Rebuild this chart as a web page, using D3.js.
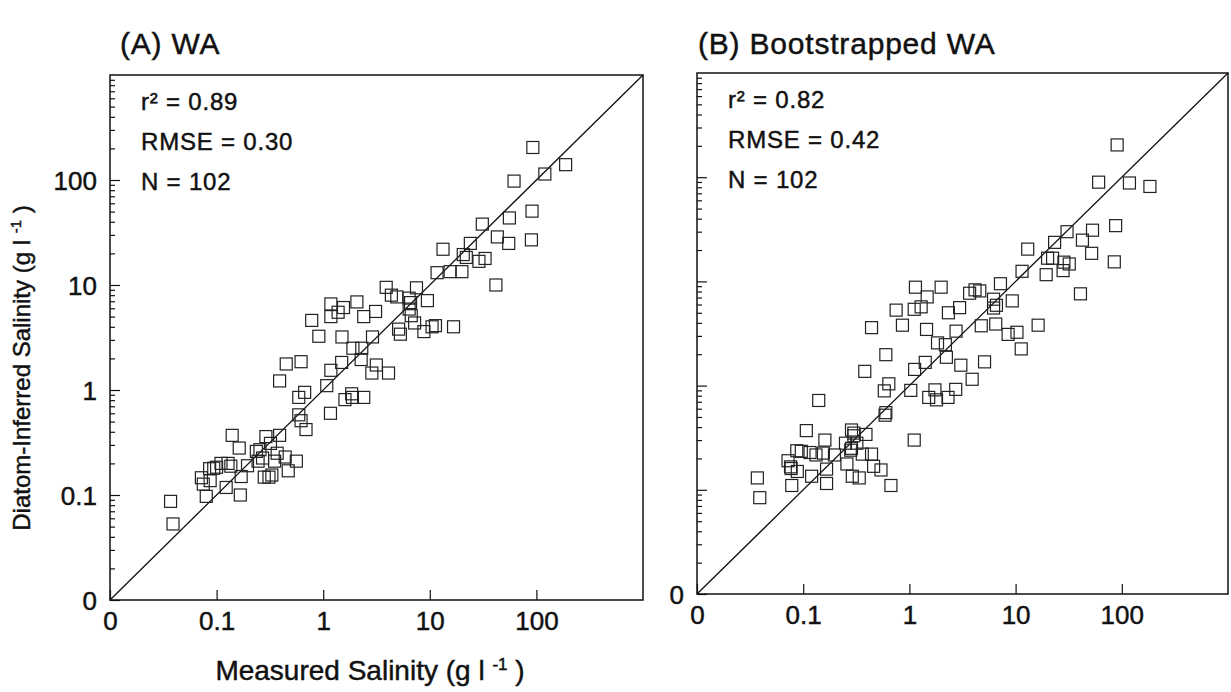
<!DOCTYPE html>
<html>
<head>
<meta charset="utf-8">
<script src="https://cdn.jsdelivr.net/npm/d3@7"></script>
<style>
  body { margin: 0; background: #fff; }
  svg { display: block; font-family: "Liberation Sans", Arial, sans-serif; }
  text { stroke: #111; stroke-width: 0.45px; }
</style>
</head>
<body>
<svg id="chart" width="1231" height="692"></svg>
<script>
// tick values and labels (the lowest decade is labelled "0" in the figure)
const majorTicks = [0.01, 0.1, 1, 10, 100];
const majorLabels = ["0", "0.1", "1", "10", "100"];
const panelTitles = ["(A) WA", "(B) Bootstrapped WA"];
const statsA = ["r² = 0.89", "RMSE = 0.30", "N = 102"];
const statsB = ["r² = 0.82", "RMSE = 0.42", "N = 102"];

// panel A: measured vs diatom-inferred salinity (g/l)
const measuredA = [92.6, 188, 120, 61.7, 91, 55.8, 31.1, 43, 55, 89.8, 24, 13.3, 20.6, 22, 33, 28.9, 20, 15.5, 11.7, 41.7,
  3.9, 4.36, 4.9, 7.5, 6.4, 6.6, 9.5, 6.4, 6.7, 7.2, 5.1, 5.3, 8.8, 10.5, 11.3, 16.7, 1.18, 1.18, 1.38, 1.55,
  2.07, 2.4, 3.1, 0.78, 0.91, 1.5, 2.9, 1.9, 2.3, 1.49, 1.18, 2.27, 3.15, 2.86, 4.1, 0.39, 0.45, 0.62, 0.67, 0.59,
  1.08, 1.6, 1.85, 1.88, 2.4, 1.17, 0.59, 0.62, 0.69, 0.14, 0.163, 0.29, 0.39, 0.32, 0.255, 0.27, 0.245, 0.35, 0.44, 0.56,
  0.47, 0.31, 0.28, 0.33, 0.195, 0.17, 0.167, 0.123, 0.136, 0.11, 0.086, 0.094, 0.072, 0.075, 0.08, 0.087, 0.1, 0.037, 0.039, 0.128,
  0.236, 0.37];
const inferredA = [204, 140, 114, 97.6, 50.5, 43.5, 38, 28.7, 24.9, 26.9, 24.9, 21.9, 19.5, 18.3, 17.9, 16.8, 13.4, 13.4, 13.1, 10.0,
  9.5, 8.0, 7.7, 9.4, 7.5, 6.8, 7.1, 5.9, 5.1, 4.35, 3.8, 3.4, 3.6, 4.0, 4.1, 4.0, 6.6, 5.0, 5.5, 6.1,
  6.9, 5.0, 5.6, 4.6, 3.25, 3.2, 3.2, 2.5, 2.5, 1.83, 1.54, 1.95, 1.73, 1.45, 1.45, 1.22, 1.77, 1.86, 0.95, 0.85,
  1.1, 0.81, 0.92, 0.85, 0.85, 0.6, 0.58, 0.51, 0.42, 0.37, 0.28, 0.36, 0.37, 0.31, 0.27, 0.225, 0.21, 0.21, 0.23, 0.21,
  0.17, 0.148, 0.148, 0.155, 0.19, 0.15, 0.1, 0.118, 0.188, 0.2, 0.178, 0.18, 0.146, 0.127, 0.097, 0.137, 0.184, 0.087, 0.053, 0.2,
  0.26, 0.25];

// panel B: measured vs bootstrapped diatom-inferred salinity (g/l)
const measuredB = [90.4, 60.5, 118, 184, 87.5, 53, 30.5, 42.6, 23.3, 13, 52, 20, 22.3, 32, 28, 85, 11.5, 19.4, 40.8, 1.14,
  1.99, 1.47, 1.29, 1.11, 0.75, 2.33, 2.97, 3.69, 4.15, 4.6, 7.2, 6.2, 6.2, 9.3, 6.5, 4.75, 8.5, 10.3, 16.3, 11.3,
  0.44, 0.86, 1.45, 2.75, 1.84, 2.18, 2.23, 1.41, 1.12, 3.05, 5.1, 0.6, 0.38, 3.9, 0.64, 0.58, 1.03, 1.74, 2.73, 1.52,
  1.8, 2.31, 0.14, 0.59, 0.6, 1.11, 0.107, 0.285, 0.3, 0.39, 0.16, 0.25, 0.285, 0.28, 0.197, 0.087, 0.096, 0.116, 0.132, 0.072,
  0.076, 0.088, 0.078, 0.12, 0.166, 0.166, 0.258, 0.29, 0.337, 0.36, 0.44, 0.46, 0.54, 0.67, 0.037, 0.039, 0.3, 0.32, 0.155, 0.077,
  28.5, 6.6];
const inferredB = [204, 89.6, 88, 81.5, 34.3, 31, 30, 24.9, 23.7, 20.4, 18.6, 16.7, 16.7, 14.7, 12.7, 15.4, 12.5, 11.6, 7.6, 8.8,
  8.8, 7.1, 5.7, 5.4, 5.3, 5.0, 5.6, 7.7, 8.3, 8.1, 9.5, 6.75, 5.55, 6.5, 3.9, 3.75, 3.1, 3.25, 3.8, 2.25,
  3.6, 3.8, 3.46, 3.33, 2.57, 2.47, 1.87, 1.67, 1.43, 1.57, 1.69, 1.98, 1.37, 1.15, 1.04, 0.89, 0.9, 0.91, 0.92, 0.77,
  0.73, 0.77, 0.72, 0.52, 0.55, 0.3, 0.37, 0.375, 0.35, 0.34, 0.3, 0.28, 0.25, 0.24, 0.216, 0.237, 0.234, 0.228, 0.216, 0.19,
  0.166, 0.15, 0.11, 0.135, 0.158, 0.115, 0.177, 0.135, 0.13, 0.22, 0.22, 0.168, 0.155, 0.11, 0.13, 0.084, 0.33, 0.28, 0.225, 0.16,
  15.3, 5.9];

const domain = [0.01, 1000];
const squareSize = 12;
const ink = "#111";

const svg = d3.select("#chart");

// frame positions of the two panels (scan is slightly tilted, so B sits a little higher)
const panels = [
  { left: 110, top: 75, right: 643, bottom: 600, titleX: 120, title: panelTitles[0], stats: statsA, xs: measuredA, ys: inferredA, yLabels: true },
  { left: 697, top: 73, right: 1228, bottom: 594, titleX: 698, title: panelTitles[1], stats: statsB, xs: measuredB, ys: inferredB, yLabels: false },
];

function minorTicks() {
  let out = [];
  for (let e = -2; e < 3; e++) {
    for (let m = 2; m <= 9; m++) out.push(m * Math.pow(10, e));
  }
  return out;
}

panels.forEach((p) => {
  const x = d3.scaleLog().domain(domain).range([p.left, p.right]);
  const y = d3.scaleLog().domain(domain).range([p.bottom, p.top]);
  const g = svg.append("g");

  // y axis: major + minor ticks pointing inward
  g.append("g")
    .attr("transform", `translate(${p.left},0)`)
    .call(d3.axisLeft(y).tickValues(minorTicks()).tickSize(-5).tickFormat(""))
    .call((a) => a.select(".domain").remove());

  g.append("g")
    .attr("class", "y-major")
    .attr("transform", `translate(${p.left},0)`)
    .call(d3.axisLeft(y).tickValues(majorTicks).tickSize(-10).tickPadding(13)
      .tickFormat((d, i) => (p.yLabels || i === 0 ? majorLabels[i] : "")))
    .call((a) => a.select(".domain").remove());

  // x axis: major ticks only
  g.append("g")
    .attr("class", "x-major")
    .attr("transform", `translate(0,${p.bottom})`)
    .call(d3.axisBottom(x).tickValues(majorTicks).tickSize(-10).tickPadding(12)
      .tickFormat((d, i) => majorLabels[i]))
    .call((a) => a.select(".domain").remove());

  g.selectAll(".tick line").attr("stroke", ink).attr("stroke-width", 1.2);
  g.selectAll(".tick text")
    .attr("fill", ink)
    .style("font-size", "26px");
  g.selectAll(".y-major .tick text").attr("dy", "0.36em");

  // frame
  g.append("rect")
    .attr("x", p.left).attr("y", p.top)
    .attr("width", p.right - p.left).attr("height", p.bottom - p.top)
    .attr("fill", "none").attr("stroke", ink).attr("stroke-width", 1.5);

  // 1:1 line
  g.append("line")
    .attr("x1", x(domain[0])).attr("y1", y(domain[0]))
    .attr("x2", x(domain[1])).attr("y2", y(domain[1]))
    .attr("stroke", ink).attr("stroke-width", 1.3);

  // points
  g.append("g")
    .selectAll("rect")
    .data(d3.range(p.xs.length))
    .join("rect")
    .attr("x", (i) => x(p.xs[i]) - squareSize / 2)
    .attr("y", (i) => y(p.ys[i]) - squareSize / 2)
    .attr("width", squareSize)
    .attr("height", squareSize)
    .attr("fill", "none")
    .attr("stroke", "#222")
    .attr("stroke-width", 1.2);

  // statistics
  g.append("g")
    .selectAll("text")
    .data(p.stats)
    .join("text")
    .attr("x", p.left + 31)
    .attr("y", (d, i) => p.top + 35 + i * 40)
    .attr("fill", ink)
    .style("font-size", "24px")
    .style("letter-spacing", "0.8px")
    .text((d) => d);

  // panel title
  svg.append("text")
    .attr("x", p.titleX)
    .attr("y", 54)
    .attr("fill", ink)
    .style("font-size", "30px")
    .style("letter-spacing", "0.8px")
    .text(p.title);
});

// axis titles
const yTitle = svg.append("text")
  .attr("transform", "translate(30,368) rotate(-90)")
  .attr("text-anchor", "middle")
  .attr("fill", ink)
  .style("font-size", "24px");
yTitle.append("tspan").text("Diatom-Inferred Salinity (g l ");
yTitle.append("tspan").attr("dy", -9).style("font-size", "15px").text("-1");
yTitle.append("tspan").attr("dy", 9).text(" )");

const xTitle = svg.append("text")
  .attr("x", 370)
  .attr("y", 680)
  .attr("text-anchor", "middle")
  .attr("fill", ink)
  .style("font-size", "28px");
xTitle.append("tspan").text("Measured Salinity (g l ");
xTitle.append("tspan").attr("dy", -10).style("font-size", "17px").text("-1");
xTitle.append("tspan").attr("dy", 10).text(" )");
</script>
</body>
</html>
